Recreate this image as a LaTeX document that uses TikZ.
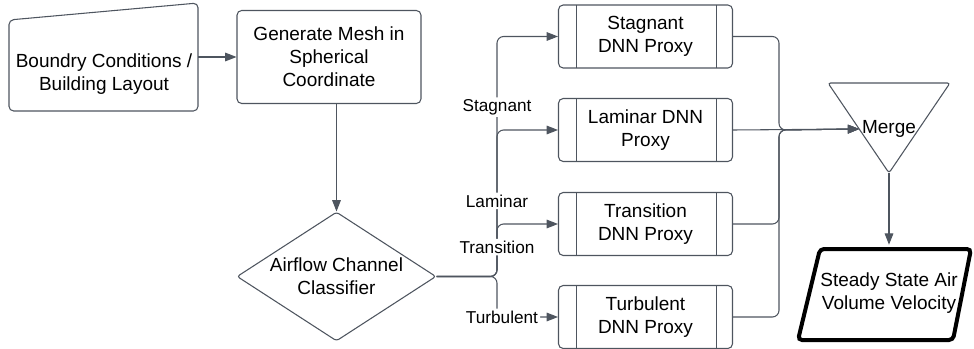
\documentclass[tikz,border=0pt]{standalone}
\usepackage{fontspec}
\setmainfont{Liberation Sans}
\usetikzlibrary{arrows.meta, shapes.geometric, calc}
\definecolor{edge}{HTML}{4E555F}
\tikzset{
  blk/.style     = {draw=edge, line width=0.8pt, rounded corners=3.5pt, align=center,
                    font=\fontsize{14.25}{17.25}\selectfont, inner sep=0pt},
  txt/.style     = {align=center, font=\fontsize{14.25}{17.25}\selectfont, inner sep=0pt},
  proc/.style    = {blk, minimum width=130.5pt, minimum height=47.25pt,
                    path picture={
                      \draw[edge, line width=0.8pt]
                        ([xshift=13.5pt]path picture bounding box.north west) --
                        ([xshift=13.5pt]path picture bounding box.south west)
                        ([xshift=-12pt]path picture bounding box.north east) --
                        ([xshift=-12pt]path picture bounding box.south east);}},
  dec/.style     = {blk, diamond, aspect=1.54, minimum width=149.25pt,
                    minimum height=96.75pt, rounded corners=2pt},
  flow/.style    = {draw=edge, line width=0.8pt, rounded corners=5pt,
                    -{Triangle[length=8.5pt, width=6.5pt]}},
  lbl/.style     = {fill=white, font=\fontsize{12.9}{15}\selectfont, inner sep=1.5pt},
  outline/.style = {draw=edge, line width=0.8pt, rounded corners=3.5pt},
  io/.style      = {draw=black, line width=3pt, rounded corners=3pt},
}

\begin{document}
\begin{tikzpicture}[x=0.75pt, y=-0.75pt]
    \useasboundingbox (0,0) rectangle (974,349);

    \draw[outline] (9,20) -- (198,3) -- (198,111) -- (9,111) -- cycle;
    \node[txt] (bc) at (104,74) {Boundry Conditions /\\Building Layout};
    \coordinate (bcr) at (198,57);

    \node[blk, minimum width=138pt, minimum height=69.75pt] (gen) at (329,57)
        {Generate Mesh in\\Spherical\\Coordinate};
    \node[dec] (cls) at (336.5,276.5) {Airflow Channel\\Classifier};

    \node[proc] (stg) at (645.5,36.5) {Stagnant\\DNN Proxy};
    \node[proc] (lam) at (645.5,130)  {Laminar DNN\\Proxy};
    \node[proc] (tra) at (645.5,224)  {Transition\\DNN Proxy};
    \node[proc] (tur) at (645.5,317)  {Turbulent\\DNN Proxy};

    \coordinate (fork) at (497,276.5);
    \coordinate (join) at (779,130);

    \draw[outline, rounded corners=2pt] (828,83) -- (950,83) -- (889,173) -- cycle;
    \node[txt, inner sep=2pt] (merge) at (889,129) {Merge};
    \coordinate (tip) at (889,173);

    \draw[io] (798,340) -- (820,249) -- (971,249) -- (953,340) -- cycle;
    \node[txt, minimum height=72pt] (out) at (889,293) {Steady State Air\\Volume Velocity};

    \draw[flow] (bcr) -- (gen);
    \draw[flow] (gen.south -| cls.north) -- (cls);

    \draw[flow] (cls.east) -- (fork) |- node[lbl, pos=0.353]{Stagnant} (stg.west);
    \draw[flow] (cls.east) -- (fork) |- node[lbl, pos=0.258]{Laminar} (lam.west);
    \draw[flow] (cls.east) -- (fork) |- node[lbl, pos=0.28]{Transition} (tra.west);
    \draw[flow] (cls.east) -- (fork) |- node[lbl, pos=0.5, xshift=3.75pt]{Turbulent} (tur.west);

    \draw[flow] (stg.east) -| (join) -- (merge.west);
    \draw[flow] (lam.east) -- (merge.west);
    \draw[flow] (tra.east) -| (join) -- (merge.west);
    \draw[flow] (tur.east) -| (join) -- (merge.west);

    \draw[flow] (tip) -- (out);
\end{tikzpicture}
\end{document}
